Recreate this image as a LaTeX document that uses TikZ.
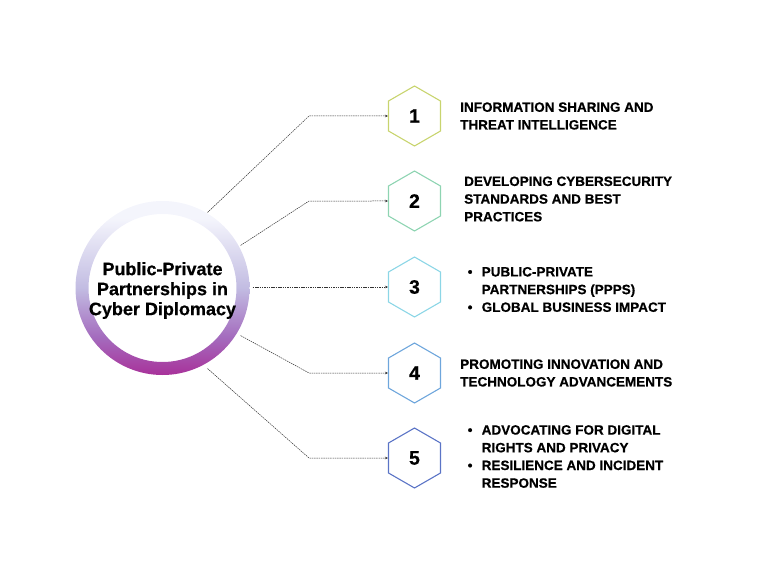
\documentclass[tikz,border=0pt]{standalone}
\usepackage{fontspec}
\setmainfont{Liberation Sans}
\newfontfamily\heavyfont{Liberation Sans Bold}[FakeBold=0.6]
\usetikzlibrary{positioning,shapes.geometric,arrows.meta}

\definecolor{hexone}{HTML}{C8D46E}
\definecolor{hextwo}{HTML}{8ED4B2}
\definecolor{hexthree}{HTML}{8CD6E6}
\definecolor{hexfour}{HTML}{6EA6DC}
\definecolor{hexfive}{HTML}{5B74C6}
\definecolor{ringtop}{HTML}{F4F5FC}
\definecolor{ringmid}{HTML}{C2BCE2}
\definecolor{ringpurp}{HTML}{A46CBE}
\definecolor{ringbot}{HTML}{A8329A}

\pgfdeclareverticalshading{ringshade}{100bp}{color(0bp)=(ringbot); color(25bp)=(ringbot);
    color(36bp)=(ringpurp); color(50bp)=(ringmid); color(70bp)=(ringtop); color(100bp)=(ringtop)}

\tikzset{
    hexnode/.style={draw=#1, line width=1.1pt, regular polygon, regular polygon sides=6,
        shape border rotate=30, minimum size=60pt, inner sep=0pt,
        font=\fontsize{19.5}{21}\heavyfont},
    itemtext/.style={anchor=west, align=left, inner sep=0pt,
        font=\fontsize{13.5}{17.7}\heavyfont},
    hubtext/.style={circle, minimum size=180pt, inner sep=0pt, align=center,
        font=\fontsize{18}{20}\heavyfont},
    link/.style={draw=black!80, line width=0.5pt, dash pattern=on 1.5pt off 0.8pt,
        -{Stealth[length=3pt,width=2.6pt]}},
}
\newcommand{\blt}{\makebox[14pt][l]{\textbullet}}
\newcommand{\ind}{\hspace*{14pt}}

\begin{document}
\begin{tikzpicture}[x=1pt,y=1pt]
    \useasboundingbox (0,0) rectangle (768,-575);

    % Hub with gradient ring
    \shade[shading=ringshade, even odd rule] (162.5,-288) circle (87pt) (162.5,-288) circle (74pt);
    \node[hubtext, yshift=-2.5pt] (hub) at (162.5,-288) {Public-Private\\Partnerships in\\Cyber Diplomacy};

    % Hexagons
    \node[hexnode=hexone]   (h1) at (414.5,-116) {1};
    \node[hexnode=hextwo]   (h2) at (414.5,-201) {2};
    \node[hexnode=hexthree] (h3) at (414.5,-287) {3};
    \node[hexnode=hexfour]  (h4) at (414.5,-373) {4};
    \node[hexnode=hexfive]  (h5) at (414.5,-458) {5};

    % Elbows
    \coordinate (e1) at (309,-116);
    \coordinate (e2) at (309,-201);
    \coordinate (e4) at (309,-373);
    \coordinate (e5) at (309,-458);

    % Connectors
    \draw[link] (hub.60) -- (e1) -- (h1.west);
    \draw[link] (hub.30) -- (e2) -- (h2.west);
    \draw[link] (hub.east |- h3.west) -- (h3.west);
    \draw[link] (hub.-30) -- (e4) -- (h4.west);
    \draw[link] (hub.-60) -- (e5) -- (h5.west);

    % Texts
    \node[itemtext, right=19pt of h1] (t1) {INFORMATION SHARING AND\\THREAT INTELLIGENCE};
    \node[itemtext, right=23pt of h2, yshift=2pt] (t2) {DEVELOPING CYBERSECURITY\\STANDARDS AND BEST\\PRACTICES};
    \node[itemtext, right=26.5pt of h3, yshift=-2.5pt] (t3) {\blt PUBLIC-PRIVATE\\\ind PARTNERSHIPS (PPPS)\\\blt GLOBAL BUSINESS IMPACT};
    \node[itemtext, right=19pt of h4] (t4) {PROMOTING INNOVATION AND\\TECHNOLOGY ADVANCEMENTS};
    \node[itemtext, right=26.5pt of h5, yshift=1.5pt] (t5) {\blt ADVOCATING FOR DIGITAL\\\ind RIGHTS AND PRIVACY\\\blt RESILIENCE AND INCIDENT\\\ind RESPONSE};
\end{tikzpicture}
\end{document}
